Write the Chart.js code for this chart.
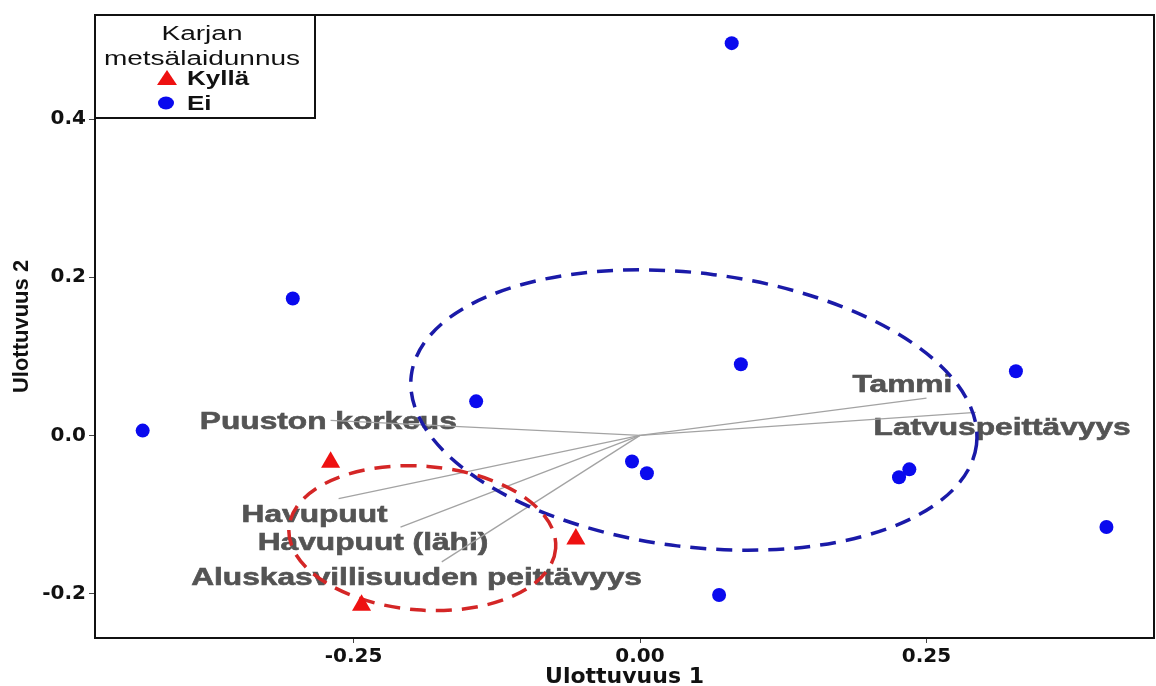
<!DOCTYPE html>
<html>
<head>
<meta charset="utf-8">
<script src="https://cdn.jsdelivr.net/npm/chart.js@4.4.0/dist/chart.umd.min.js"></script>
<style>
    html, body { margin: 0; padding: 0; background: #fff; }
</style>
</head>
<body>
<canvas id="biplot" width="1156" height="686"></canvas>
<script>
// sites, cattle grazing = "Ei"
const eiX = [0.080, -0.303, 0.088, 0.328, -0.143, -0.434, -0.007, 0.006, 0.235, 0.226, 0.407, 0.069];
const eiY = [0.496, 0.173, 0.090, 0.081, 0.043, 0.006, -0.033, -0.048, -0.043, -0.053, -0.116, -0.202];
// sites, cattle grazing = "Kyllä"
const kyllaX = [-0.270, -0.056, -0.243];
const kyllaY = [-0.034, -0.131, -0.215];

// environmental vectors
const variableNames = ['Tammi', 'Latvuspeittävyys', 'Puuston korkeus', 'Havupuut', 'Havupuut (lähi)', 'Aluskasvillisuuden peittävyys'];
const arrowX = [0.250, 0.293, -0.270, -0.263, -0.209, -0.173];
const arrowY = [0.047, 0.029, 0.019, -0.080, -0.116, -0.160];
const labelX = [0.229, 0.316, -0.272, -0.284, -0.233, -0.195];
const labelY = [0.063, 0.009, 0.016, -0.101, -0.136, -0.181];

// group ellipses: centre and two half-axis vectors (data units)
const kyllaEllipseCenter = [-0.190, -0.130];
const kyllaEllipseAxes = [0.1164, -0.0130, -0.0048, -0.0907];
const eiEllipseCenter = [0.047, 0.032];
const eiEllipseAxes = [0.2466, -0.0438, -0.0146, -0.1718];

const xTicks = [-0.25, 0, 0.25];
const yTicks = [-0.2, 0, 0.2, 0.4];
const legendTitle = ['Karjan', 'metsälaidunnus'];
const groupNames = ['Kyllä', 'Ei'];

const RED = '#ee1111';
const BLUE = '#0a0aee';

function drawEllipse(ctx, xs, ys, center, axes, color) {
    const cx = xs.getPixelForValue(center[0]);
    const cy = ys.getPixelForValue(center[1]);
    const ux = xs.getPixelForValue(center[0] + axes[0]) - cx;
    const uy = ys.getPixelForValue(center[1] + axes[1]) - cy;
    const vx = xs.getPixelForValue(center[0] + axes[2]) - cx;
    const vy = ys.getPixelForValue(center[1] + axes[3]) - cy;
    ctx.save();
    ctx.beginPath();
    ctx.save();
    ctx.transform(ux, uy, vx, vy, cx, cy);
    ctx.arc(0, 0, 1, 0, Math.PI * 2);
    ctx.restore();
    ctx.setLineDash([16, 10]);
    ctx.lineWidth = 3.5;
    ctx.strokeStyle = color;
    ctx.stroke();
    ctx.restore();
}

function stretchedText(ctx, text, x, y, sx, outline) {
    ctx.save();
    ctx.translate(x, y);
    ctx.scale(sx, 1);
    ctx.fillText(text, 0, 0);
    if (outline) {
        ctx.lineWidth = outline;
        ctx.strokeText(text, 0, 0);
    }
    ctx.restore();
}

const biplotDecor = {
    id: 'biplotDecor',
    beforeDatasetsDraw(chart) {
        const {ctx, scales: {x, y}} = chart;
        ctx.save();
        ctx.font = 'bold 24px "Liberation Sans", Arial, sans-serif';
        ctx.fillStyle = '#545454';
        ctx.strokeStyle = '#545454';
        ctx.textAlign = 'center';
        ctx.textBaseline = 'middle';
        variableNames.forEach((name, i) => {
            stretchedText(ctx, name, x.getPixelForValue(labelX[i]), y.getPixelForValue(labelY[i]), 1.32, 0.6);
        });
        ctx.restore();
    },
    beforeDatasetDraw(chart, args) {
        // ellipses go over the vector lines, under the points
        if (args.index !== 1) return;
        const {ctx, scales: {x, y}} = chart;
        drawEllipse(ctx, x, y, eiEllipseCenter, eiEllipseAxes, '#1a1aa8');
        drawEllipse(ctx, x, y, kyllaEllipseCenter, kyllaEllipseAxes, '#d42626');
    },
    afterDraw(chart) {
        const {ctx, chartArea: a} = chart;
        ctx.save();
        ctx.strokeStyle = '#111';
        ctx.lineWidth = 2;
        ctx.strokeRect(a.left, a.top, a.right - a.left, a.bottom - a.top);

        // legend box
        const lx = a.left, ly = a.top, lw = 220, lh = 103;
        ctx.fillStyle = '#fff';
        ctx.fillRect(lx, ly, lw, lh);
        ctx.strokeRect(lx, ly, lw, lh);
        ctx.fillStyle = '#111';
        ctx.textAlign = 'center';
        ctx.textBaseline = 'middle';
        ctx.font = '20px "Liberation Sans", Arial, sans-serif';
        stretchedText(ctx, legendTitle[0], lx + 107, ly + 19, 1.4);
        stretchedText(ctx, legendTitle[1], lx + 107, ly + 44, 1.4);

        ctx.fillStyle = RED;
        ctx.beginPath();
        ctx.moveTo(lx + 72, ly + 55);
        ctx.lineTo(lx + 82, ly + 70);
        ctx.lineTo(lx + 62, ly + 70);
        ctx.closePath();
        ctx.fill();
        ctx.fillStyle = BLUE;
        ctx.beginPath();
        ctx.ellipse(lx + 71, ly + 88, 8, 6.5, 0, 0, Math.PI * 2);
        ctx.fill();

        ctx.fillStyle = '#111';
        ctx.textAlign = 'left';
        ctx.font = 'bold 20px "Liberation Sans", Arial, sans-serif';
        stretchedText(ctx, groupNames[0], lx + 92, ly + 64, 1.3);
        stretchedText(ctx, groupNames[1], lx + 92, ly + 89, 1.3);
        ctx.restore();
    }
};

const vectorSets = variableNames.map((name, i) => ({
    label: name,
    data: [{x: 0, y: 0}, {x: arrowX[i], y: arrowY[i]}],
    showLine: true,
    borderColor: '#a3a3a3',
    borderWidth: 1.3,
    pointRadius: 0,
}));

new Chart(document.getElementById('biplot'), {
    type: 'scatter',
    data: {
        datasets: [
            {
                label: groupNames[0],
                data: kyllaX.map((v, i) => ({x: v, y: kyllaY[i]})),
                pointStyle: 'triangle',
                pointRadius: 11,
                backgroundColor: RED,
                borderColor: RED,
                borderWidth: 0,
            },
            {
                label: groupNames[1],
                data: eiX.map((v, i) => ({x: v, y: eiY[i]})),
                pointStyle: 'circle',
                pointRadius: 7,
                backgroundColor: BLUE,
                borderColor: BLUE,
                borderWidth: 0,
            },
            ...vectorSets
        ]
    },
    options: {
        responsive: false,
        animation: false,
        layout: {autoPadding: false, padding: {top: 14, right: 2, left: 0, bottom: 0}},
        scales: {
            x: {
                type: 'linear',
                min: -0.4756,
                max: 0.4485,
                afterFit: (scale) => { scale.height = 48; },
                afterBuildTicks: (scale) => { scale.ticks = xTicks.map(v => ({value: v})); },
                grid: {drawOnChartArea: false, drawTicks: true, tickLength: 5, color: '#444'},
                border: {display: true, color: '#111', width: 2},
                ticks: {
                    padding: 2,
                    color: '#111',
                    font: {size: 20, family: "'DejaVu Sans'", weight: 'bold'},
                    callback: (v) => v.toFixed(2)
                },
                title: {
                    display: true,
                    text: 'Ulottuvuus 1',
                    color: '#111',
                    padding: {top: 0, bottom: -2},
                    font: {size: 22, family: "'DejaVu Sans'", weight: 'bold', lineHeight: 1}
                }
            },
            y: {
                type: 'linear',
                min: -0.2563,
                max: 0.5316,
                afterFit: (scale) => { scale.width = 95; },
                afterBuildTicks: (scale) => { scale.ticks = yTicks.map(v => ({value: v})); },
                grid: {drawOnChartArea: false, drawTicks: true, tickLength: 6, color: '#444'},
                border: {display: true, color: '#111', width: 2},
                ticks: {
                    padding: 3,
                    color: '#111',
                    font: {size: 20, family: "'DejaVu Sans'", weight: 'bold'},
                    callback: (v) => v.toFixed(1)
                },
                title: {
                    display: true,
                    text: 'Ulottuvuus 2',
                    color: '#111',
                    padding: {top: 11, bottom: 0},
                    font: {size: 22, family: "'Liberation Sans'", weight: 'bold', lineHeight: 1}
                }
            }
        },
        plugins: {
            legend: {display: false},
            tooltip: {enabled: false}
        }
    },
    plugins: [biplotDecor]
});
</script>
</body>
</html>
